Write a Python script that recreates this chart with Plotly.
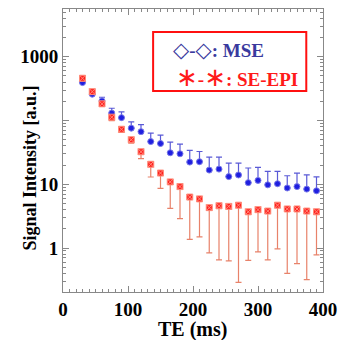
import plotly.graph_objects as go

te = [30, 45, 60, 75, 90, 105, 120, 135, 150, 165, 180, 195, 210,
      225, 240, 255, 270, 285, 300, 315, 330, 345, 360, 375, 390]

mse_mean = [394, 259, 203, 131, 111, 76, 67, 46.8, 43.6, 31.2, 30.1, 22.3, 22.6,
            16.7, 17.3, 13.2, 14.0, 10.6, 11.5, 9.8, 10.2, 8.75, 9.2, 8.4, 7.9]
mse_upper = [450, 302, 232, 156, 137, 95, 86, 63.5, 59, 46, 42.8, 34, 32.7,
             26.7, 26.7, 21.5, 21.5, 18.0, 18.4, 15.9, 15.9, 13.6, 15.0, 14.0, 13.1]

epi_mean = [461, 284, 183, 113, 73, 50, 32.4, 20.6, 15.0, 10.9, 9.2, 6.3, 5.9,
            4.3, 4.6, 4.5, 4.7, 3.7, 4.0, 3.8, 4.7, 4.1, 4.1, 3.8, 3.7]
epi_lower = [420, 260, 166, 100, 65, 44, 25.2, 13.0, 8.6, 4.2, 2.9, 1.37, 1.50,
             0.84, 0.65, 0.63, 0.29, 0.64, 0.87, 0.65, 0.97, 0.40, 0.57, 0.32, 0.78]

y_tickvals = [1, 10, 100, 1000]
y_ticktext = ["1", "10", "", "1000"]
x_tickvals = [0, 100, 200, 300, 400]

minor_y = [m * 10 ** d for d in range(-1, 4) for m in range(2, 10)]

fig = go.Figure()

fig.add_trace(go.Scatter(
    x=te, y=mse_mean, mode="markers",
    marker=dict(symbol="circle", size=6, color="#1f1fe0",
                line=dict(color="#7a7ae8", width=1)),
    error_y=dict(type="data", symmetric=False,
                 array=[u - m for u, m in zip(mse_upper, mse_mean)],
                 arrayminus=[0] * len(te),
                 color="#5a5ad6", thickness=1.2, width=3),
    showlegend=False))

fig.add_trace(go.Scatter(
    x=te, y=epi_mean, mode="markers",
    marker=dict(symbol="square-x", size=6, color="#ff2020",
                line=dict(color="#ff8c7a", width=1)),
    error_y=dict(type="data", symmetric=False,
                 array=[0] * len(te),
                 arrayminus=[m - l for m, l in zip(epi_mean, epi_lower)],
                 color="#e8826a", thickness=1.2, width=3),
    showlegend=False))

axis_font = dict(family="Liberation Serif", size=19, color="black", weight="bold")

fig.update_xaxes(
    range=[0, 400], tickvals=x_tickvals, ticks="inside", ticklen=6,
    tickcolor="#888", showline=True, linecolor="#888", linewidth=1, mirror="allticks",
    minor=dict(dtick=10, ticks="inside", ticklen=3, tickcolor="#888"),
    showgrid=False, zeroline=False, tickfont=axis_font, automargin=False)

fig.update_yaxes(
    type="log", range=[-0.69, 3.75], tickvals=y_tickvals, ticktext=y_ticktext,
    ticks="inside", ticklen=6, tickcolor="#888", showline=True, linecolor="#888",
    linewidth=1, mirror="allticks",
    minor=dict(tickvals=minor_y, ticks="inside", ticklen=3, tickcolor="#888"),
    showgrid=False, zeroline=False, tickfont=axis_font, automargin=False)

fig.add_annotation(xref="paper", yref="paper", x=0.497, y=-0.131,
                   xanchor="center", yanchor="middle", showarrow=False,
                   text="TE (ms)",
                   font=dict(family="Liberation Serif", size=20, color="black", weight="bold"))

fig.add_annotation(xref="paper", yref="paper", x=-0.127, y=0.44,
                   xanchor="center", yanchor="middle", textangle=-90, showarrow=False,
                   text="Signal Intensity [a.u.]",
                   font=dict(family="Liberation Serif", size=18, color="black", weight="bold"))

fig.add_shape(type="rect", xref="paper", yref="paper",
              x0=0.3466, x1=0.9357, y0=0.710, y1=0.919,
              line=dict(color="#ff1010", width=2), fillcolor="white")

dia = '<span style="font-family:DejaVu Sans;font-size:21px;font-weight:normal">◇</span>'
ast = '<span style="font-family:DejaVu Sans;font-size:26px;font-weight:normal">∗</span>'

fig.add_annotation(xref="paper", yref="paper", x=0.415, y=0.855, xanchor="left",
                   yanchor="middle", showarrow=False,
                   text=dia + "-" + dia + ": MSE",
                   font=dict(family="Liberation Serif", size=19, color="#3a3a9e", weight="bold"))
fig.add_annotation(xref="paper", yref="paper", x=0.425, y=0.760, xanchor="left",
                   yanchor="middle", showarrow=False,
                   text=ast + "-" + ast + ": SE-EPI",
                   font=dict(family="Liberation Serif", size=19, color="#ff1a1a", weight="bold"))

fig.update_layout(
    width=347, height=340,
    margin=dict(l=63, r=24, t=9, b=48),
    plot_bgcolor="white", paper_bgcolor="white",
)

fig.write_html("out.html", config={"displayModeBar": False})
with open("out.html", encoding="utf-8") as f:
    html = f.read()
html = html.replace("<body>", '<body style="margin:0">', 1)
with open("out.html", "w", encoding="utf-8") as f:
    f.write(html)
